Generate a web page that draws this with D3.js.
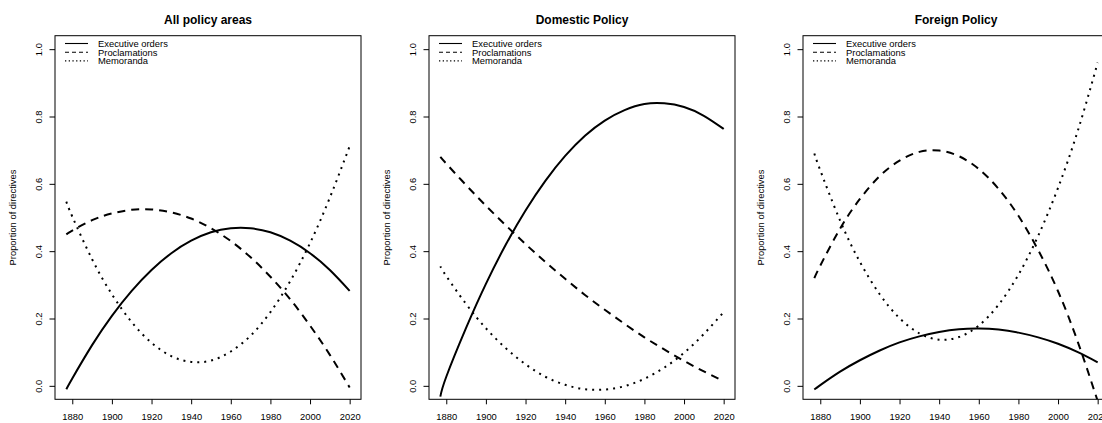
<!DOCTYPE html>
<html>
<head>
<meta charset="utf-8">
<script src="https://cdn.jsdelivr.net/npm/d3@7"></script>
<style>
  html, body { margin: 0; padding: 0; background: #fff; overflow: hidden; }
  svg { display: block; }
  text { font-family: "Liberation Sans", Arial, Helvetica, sans-serif; fill: #000; }
</style>
</head>
<body>
<svg id="chart" width="1102" height="423"></svg>
<script>
// Smoothed share of presidential directives by type, 1877-2020
const years = [1877, 1880, 1890, 1900, 1910, 1920, 1930, 1940, 1950, 1960, 1970, 1980, 1990, 2000, 2010, 2020];

const panelTitles = ["All policy areas", "Domestic Policy", "Foreign Policy"];
const seriesNames = ["Executive orders", "Proclamations", "Memoranda"];

// All policy areas
const allExec = [-0.010, 0.022, 0.121, 0.208, 0.282, 0.344, 0.394, 0.431, 0.456, 0.468, 0.468, 0.456, 0.431, 0.394, 0.344, 0.282];
const allProc = [0.450, 0.461, 0.492, 0.512, 0.523, 0.524, 0.515, 0.497, 0.468, 0.430, 0.382, 0.324, 0.257, 0.179, 0.092, -0.005];
const allMemo = [0.547, 0.503, 0.376, 0.272, 0.189, 0.128, 0.088, 0.071, 0.075, 0.102, 0.149, 0.219, 0.311, 0.424, 0.559, 0.712];

// Domestic policy
const domExec = [-0.032, 0.027, 0.172, 0.303, 0.419, 0.521, 0.609, 0.683, 0.743, 0.788, 0.819, 0.837, 0.839, 0.828, 0.802, 0.763];
const domProc = [0.680, 0.660, 0.596, 0.535, 0.477, 0.421, 0.368, 0.318, 0.270, 0.226, 0.184, 0.144, 0.108, 0.074, 0.043, 0.014];
const domMemo = [0.355, 0.326, 0.243, 0.171, 0.112, 0.064, 0.027, 0.003, -0.010, -0.011, -0.001, 0.021, 0.054, 0.098, 0.154, 0.219];

// Foreign policy
const forExec = [-0.011, 0.002, 0.042, 0.076, 0.105, 0.129, 0.147, 0.160, 0.168, 0.170, 0.167, 0.158, 0.144, 0.125, 0.100, 0.070];
const forProc = [0.320, 0.357, 0.467, 0.555, 0.623, 0.669, 0.695, 0.699, 0.682, 0.644, 0.585, 0.505, 0.403, 0.281, 0.130, -0.045];
const forMemo = [0.690, 0.640, 0.491, 0.368, 0.272, 0.201, 0.156, 0.137, 0.145, 0.179, 0.241, 0.330, 0.446, 0.588, 0.758, 0.960];

const xTicks = [1880, 1900, 1920, 1940, 1960, 1980, 2000, 2020];
const yTicks = [0, 0.2, 0.4, 0.6, 0.8, 1.0];

const panels = [
  [allExec, allProc, allMemo],
  [domExec, domProc, domMemo],
  [forExec, forProc, forMemo]
];

// line styles for curves and legend keys
const curveDash = [null, "8,6", "2,5"];
const keyDash = [null, "4,3", "1.3,2.4"];

const panelWidth = 374;
const plot = { left: 55, right: 361, top: 35.7, bottom: 399.3 };

const svg = d3.select("#chart");

// R-style 4% padding around the data range
const xPad = (2020 - 1877) * 0.04;
const x = d3.scaleLinear().domain([1877 - xPad, 2020 + xPad]).range([plot.left, plot.right]);
const y = d3.scaleLinear().domain([-0.04, 1.04]).range([plot.bottom, plot.top]);

const line = d3.line()
  .x((d, i) => x(years[i]))
  .y(d => y(d))
  .curve(d3.curveNatural);

panels.forEach((series, p) => {
  const g = svg.append("g").attr("transform", `translate(${p * panelWidth},0)`);

  g.append("clipPath").attr("id", `clip${p}`)
    .append("rect")
    .attr("x", plot.left).attr("y", plot.top)
    .attr("width", plot.right - plot.left).attr("height", plot.bottom - plot.top);

  // title
  g.append("text")
    .attr("x", (plot.left + plot.right) / 2)
    .attr("y", 23.5)
    .attr("text-anchor", "middle")
    .style("font-size", "12px")
    .style("font-weight", "bold")
    .text(panelTitles[p]);

  // x axis
  const xa = g.append("g")
    .attr("transform", `translate(0,${plot.bottom})`)
    .call(d3.axisBottom(x).tickValues(xTicks).tickFormat(d3.format("d")).tickSizeOuter(0).tickSize(5).tickPadding(9));
  xa.select(".domain").remove();
  xa.selectAll("line").attr("stroke", "#000");
  xa.selectAll("text").style("font-size", "9.4px").attr("font-family", null);

  // y axis with labels parallel to the axis
  const ya = g.append("g")
    .attr("transform", `translate(${plot.left},0)`)
    .call(d3.axisLeft(y).tickValues(yTicks).tickFormat(d3.format(".1f")).tickSizeOuter(0).tickSize(5.5));
  ya.select(".domain").remove();
  ya.selectAll("line").attr("stroke", "#000");
  ya.selectAll("text")
    .attr("x", null).attr("dy", null)
    .attr("text-anchor", "middle")
    .attr("transform", "translate(-16,0) rotate(-90)")
    .attr("y", 3.3)
    .style("font-size", "9.4px")
    .attr("font-family", null);

  // y axis title
  g.append("text")
    .attr("transform", `translate(16.2,${(plot.top + plot.bottom) / 2}) rotate(-90)`)
    .attr("text-anchor", "middle")
    .style("font-size", "9.4px")
    .text("Proportion of directives");

  // plot box
  g.append("rect")
    .attr("x", plot.left).attr("y", plot.top)
    .attr("width", plot.right - plot.left).attr("height", plot.bottom - plot.top)
    .attr("fill", "none").attr("stroke", "#000").attr("stroke-width", 1);

  // curves
  const curves = g.append("g").attr("clip-path", `url(#clip${p})`);
  series.forEach((vals, s) => {
    curves.append("path")
      .datum(vals)
      .attr("d", line)
      .attr("fill", "none")
      .attr("stroke", "#000")
      .attr("stroke-width", 2)
      .attr("stroke-dasharray", curveDash[s]);
  });

  // legend
  const lg = g.append("g");
  seriesNames.forEach((name, s) => {
    const ly = 43.5 + s * 8.7;
    lg.append("line")
      .attr("x1", plot.left + 10).attr("x2", plot.left + 33)
      .attr("y1", ly).attr("y2", ly)
      .attr("stroke", "#000").attr("stroke-width", 1.1)
      .attr("stroke-dasharray", keyDash[s]);
    lg.append("text")
      .attr("x", plot.left + 43)
      .attr("y", ly + 3.3)
      .style("font-size", "9.4px")
      .text(name);
  });
});
</script>
</body>
</html>
